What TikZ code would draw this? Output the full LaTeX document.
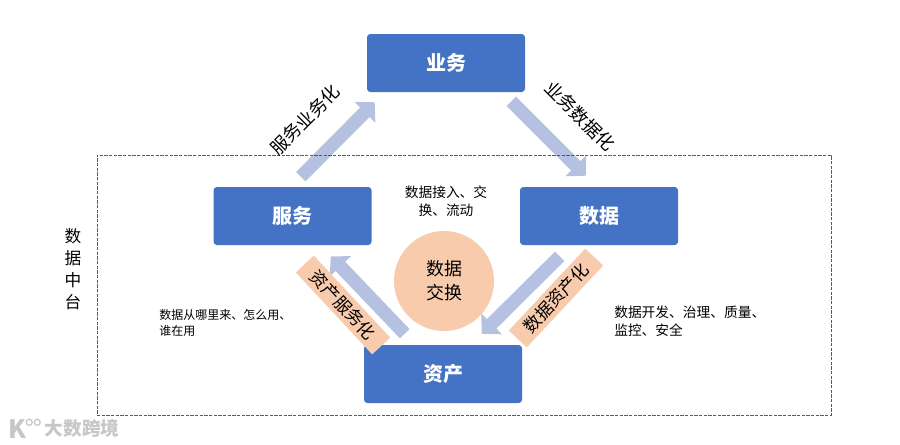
\documentclass[tikz,border=0pt]{standalone}
\usepackage{fontspec}
\setmainfont{Noto Sans CJK SC}
\usetikzlibrary{arrows.meta}
\definecolor{boxblue}{HTML}{4472C4}
\definecolor{arrowblue}{HTML}{B4C1E1}
\definecolor{peach}{HTML}{F8CBAD}
\definecolor{dashblue}{HTML}{3F5F8A}
\tikzset{
  mainbox/.style={fill=boxblue,rounded corners=2.5pt,minimum width=118.5pt,minimum height=43.5pt,inner sep=0pt,text=white,font=\bfseries\fontsize{15}{18}\selectfont},
  blockarrow/.style={draw=arrowblue,line width=10pt,-{Triangle[length=10.5pt,width=21.5pt]}},
  turnlabel/.style={font=\fontsize{13.5}{15}\selectfont,inner sep=0pt},
  peachlabel/.style={turnlabel,fill=peach,minimum width=84pt,minimum height=18.5pt,font=\fontsize{13}{15}\selectfont},
  notelabel/.style={font=\fontsize{10.3}{13.5}\selectfont,inner sep=0pt,align=left}
}
\begin{document}
\begin{tikzpicture}[x=.75pt,y=-.75pt]
\useasboundingbox (0,0) rectangle (900,444);

%boxes
\node[mainbox] (yewu) at (446,63) {业务};
\node[mainbox] (fuwu) at (292.5,216) {服务};
\node[mainbox] (shuju) at (599,216) {数据};
\node[mainbox] (zichan) at (443,374) {资产};
\node[circle,fill=peach,minimum size=75pt,inner sep=0pt,align=center,font=\fontsize{13.5}{18}\selectfont] (jiaohuan) at (444,281) {数据\\交换};

%arrows
\draw[blockarrow] ([shift={(-71,-10)}]fuwu.north east) -- ([shift={(8,10)}]yewu.south west);
\draw[blockarrow] ([shift={(-14,9)}]yewu.south east) -- ([shift={(66,-11)}]shuju.north west);
\draw[blockarrow] ([shift={(40,11)}]shuju.south west) -- ([shift={(118,-11)}]zichan.north west);
\draw[blockarrow] ([shift={(41,-11)}]zichan.north west) -- ([shift={(-41,11)}]fuwu.south east);

%frame
\node[draw=dashblue,dash pattern=on 2.4pt off 1.1pt,line width=.7pt,minimum width=550.5pt,minimum height=195pt,inner sep=0pt] (zhongtai) at (464,285) {};

%labels
\node[turnlabel,rotate=45] (fwyw) at (305,120) {服务业务化};
\node[turnlabel,rotate=-45] (ywsj) at (580,116) {业务数据化};
\node[peachlabel,rotate=-47] (zcfw) at (343,305) {资产服务化};
\node[peachlabel,rotate=47] (sjzc) at (556,298) {数据资产化};

\node[notelabel,align=center] (jieru) at (446,201) {数据接入、交\\换、流动};
\node[notelabel,font=\fontsize{9}{12}\selectfont,anchor=west] (laiyuan) at (159,323) {数据从哪里来、怎么用、\\谁在用};
\node[notelabel,anchor=west] (kaifa) at (614,321.5) {数据开发、治理、质量、\\监控、安全};
\node[align=center,inner sep=0pt,font=\fontsize{12.5}{16.5}\selectfont] (zhongtaiming) at (73,269) {数\\据\\中\\台};

%watermark
\node[inner sep=0pt,text=black!22,font=\bfseries\fontsize{14}{15}\selectfont] (shuiyin) at (82,428) {大数跨境};
\node[inner sep=0pt,text=black!22,font=\bfseries\fontsize{19}{15}\selectfont] (logo) at (17,429) {K};
\draw[black!22,line width=1pt] (logo.north east) ++(3,3) circle (3) ++(8,0) circle (3);
\end{tikzpicture}
\end{document}
